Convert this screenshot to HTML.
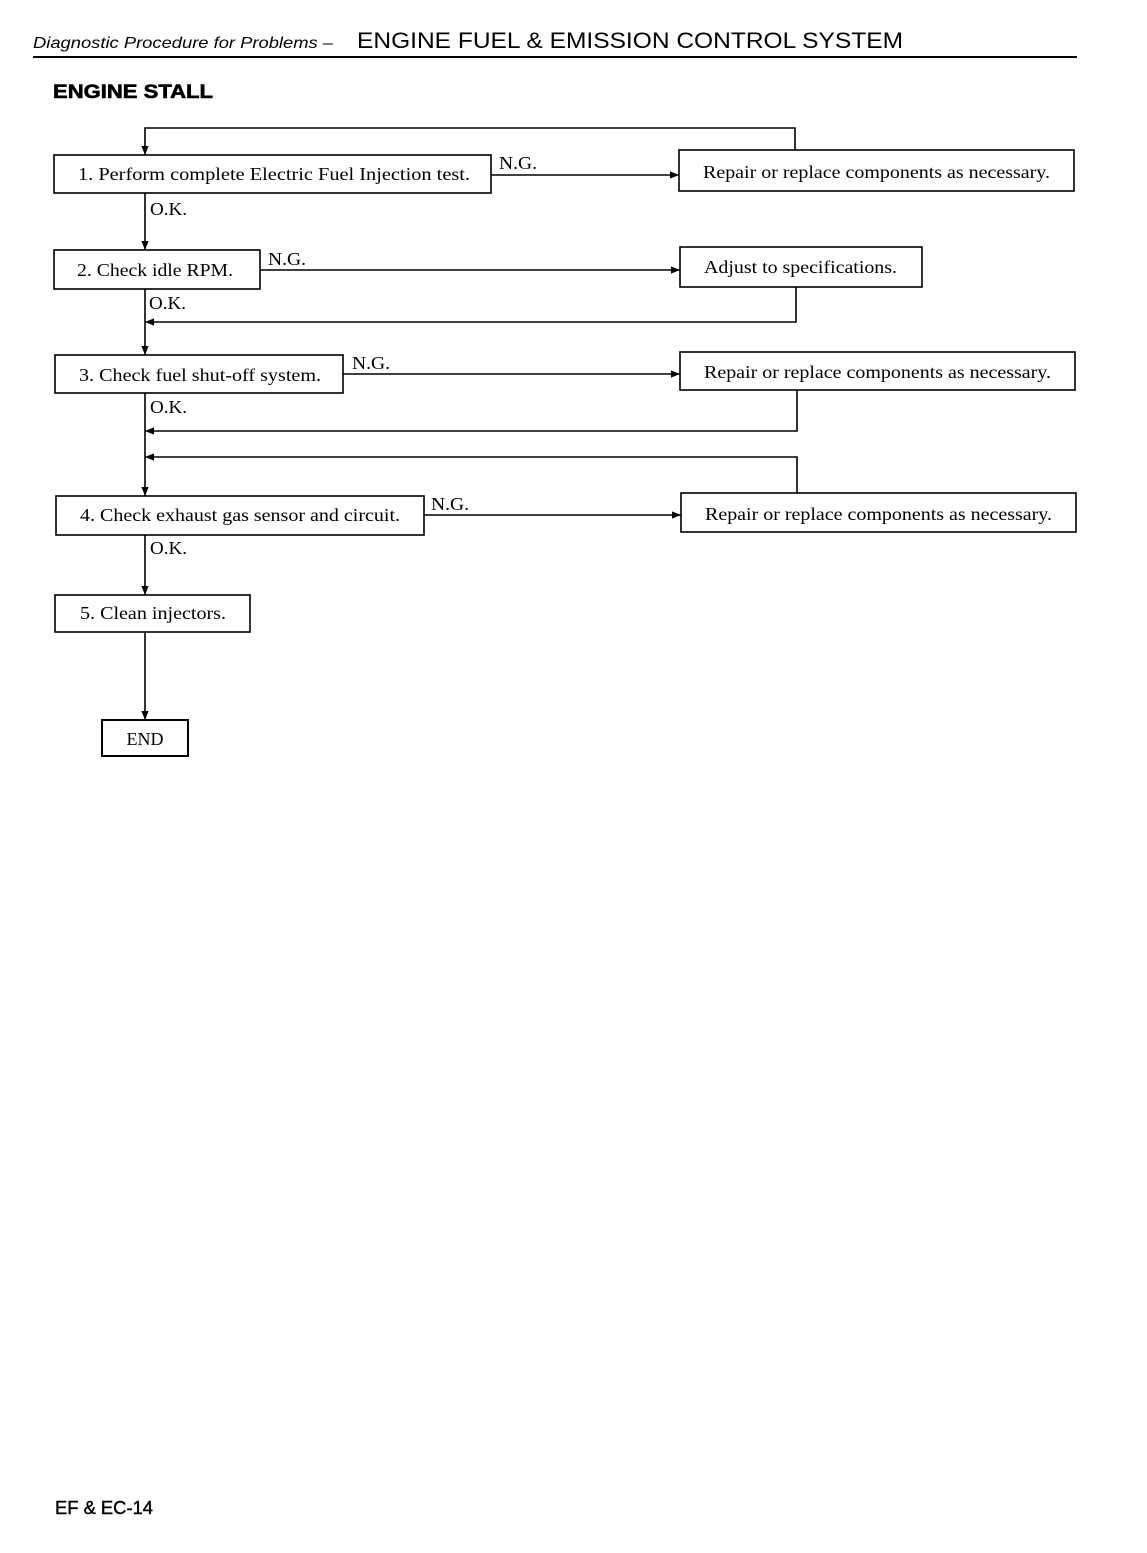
<!DOCTYPE html>
<html><head><meta charset="utf-8"><style>
html,body{margin:0;padding:0;background:#fff;}
svg{display:block}
.s{font-family:"Liberation Serif",serif;font-size:18px;fill:#000}
</style></head><body>
<svg width="1147" height="1553" viewBox="0 0 1147 1553" xmlns="http://www.w3.org/2000/svg">
<defs>
<marker id="a" viewBox="0 0 10 10" refX="10" refY="5" markerWidth="9" markerHeight="9" orient="auto-start-reverse" markerUnits="userSpaceOnUse"><path d="M0,1 L10,5 L0,9 z" fill="#000"/></marker>
</defs>
<text x="33" y="48" font-family="Liberation Sans,sans-serif" font-style="italic" font-size="16" textLength="300" lengthAdjust="spacingAndGlyphs">Diagnostic Procedure for Problems –</text>
<text x="357" y="48" font-family="Liberation Sans,sans-serif" font-size="22" textLength="546" lengthAdjust="spacingAndGlyphs">ENGINE FUEL &amp; EMISSION CONTROL SYSTEM</text>
<line x1="33" y1="57" x2="1077" y2="57" stroke="#000" stroke-width="2"/>
<text x="53" y="98" font-family="Liberation Sans,sans-serif" font-weight="bold" font-size="19" stroke="#000" stroke-width="0.6" textLength="160" lengthAdjust="spacingAndGlyphs">ENGINE STALL</text>

<g fill="none" stroke="#000" stroke-width="1.6">
<rect x="54" y="155" width="437" height="38"/>
<rect x="679" y="150" width="395" height="41"/>
<rect x="54" y="250" width="206" height="39"/>
<rect x="680" y="247" width="242" height="40"/>
<rect x="55" y="355" width="288" height="38"/>
<rect x="680" y="352" width="395" height="38"/>
<rect x="56" y="496" width="368" height="39"/>
<rect x="681" y="493" width="395" height="39"/>
<rect x="55" y="595" width="195" height="37"/>
<rect x="102" y="720" width="86" height="36" stroke-width="2"/>

<polyline points="795,150 795,128 145,128 145,155" marker-end="url(#a)"/>
<line x1="491" y1="175" x2="679" y2="175" marker-end="url(#a)"/>
<line x1="145" y1="193" x2="145" y2="250" marker-end="url(#a)"/>
<line x1="260" y1="270" x2="680" y2="270" marker-end="url(#a)"/>
<polyline points="796,287 796,322 145,322" marker-end="url(#a)"/>
<line x1="145" y1="289" x2="145" y2="355" marker-end="url(#a)"/>
<line x1="343" y1="374" x2="680" y2="374" marker-end="url(#a)"/>
<polyline points="797,390 797,431 145,431" marker-end="url(#a)"/>
<polyline points="797,493 797,457 145,457" marker-end="url(#a)"/>
<line x1="145" y1="393" x2="145" y2="496" marker-end="url(#a)"/>
<line x1="424" y1="515" x2="681" y2="515" marker-end="url(#a)"/>
<line x1="145" y1="535" x2="145" y2="595" marker-end="url(#a)"/>
<line x1="145" y1="632" x2="145" y2="720" marker-end="url(#a)"/>
</g>

<text class="s" x="78" y="180" textLength="392" lengthAdjust="spacingAndGlyphs">1. Perform complete Electric Fuel Injection test.</text>
<text class="s" x="499" y="169" textLength="38" lengthAdjust="spacingAndGlyphs">N.G.</text>
<text class="s" x="703" y="178" textLength="347" lengthAdjust="spacingAndGlyphs">Repair or replace components as necessary.</text>
<text class="s" x="150" y="215" textLength="37" lengthAdjust="spacingAndGlyphs">O.K.</text>
<text class="s" x="77" y="276" textLength="156" lengthAdjust="spacingAndGlyphs">2. Check idle RPM.</text>
<text class="s" x="268" y="265" textLength="38" lengthAdjust="spacingAndGlyphs">N.G.</text>
<text class="s" x="704" y="273" textLength="193" lengthAdjust="spacingAndGlyphs">Adjust to specifications.</text>
<text class="s" x="149" y="309" textLength="37" lengthAdjust="spacingAndGlyphs">O.K.</text>
<text class="s" x="79" y="381" textLength="242" lengthAdjust="spacingAndGlyphs">3. Check fuel shut-off system.</text>
<text class="s" x="352" y="369" textLength="38" lengthAdjust="spacingAndGlyphs">N.G.</text>
<text class="s" x="704" y="378" textLength="347" lengthAdjust="spacingAndGlyphs">Repair or replace components as necessary.</text>
<text class="s" x="150" y="413" textLength="37" lengthAdjust="spacingAndGlyphs">O.K.</text>
<text class="s" x="80" y="521" textLength="320" lengthAdjust="spacingAndGlyphs">4. Check exhaust gas sensor and circuit.</text>
<text class="s" x="431" y="510" textLength="38" lengthAdjust="spacingAndGlyphs">N.G.</text>
<text class="s" x="705" y="520" textLength="347" lengthAdjust="spacingAndGlyphs">Repair or replace components as necessary.</text>
<text class="s" x="150" y="554" textLength="37" lengthAdjust="spacingAndGlyphs">O.K.</text>
<text class="s" x="80" y="619" textLength="146" lengthAdjust="spacingAndGlyphs">5. Clean injectors.</text>
<text class="s" x="145" y="745" text-anchor="middle">END</text>

<text x="55" y="1514" font-family="Liberation Sans,sans-serif" font-size="18" stroke="#000" stroke-width="0.4" textLength="98" lengthAdjust="spacingAndGlyphs">EF &amp; EC-14</text>
</svg>
</body></html>
